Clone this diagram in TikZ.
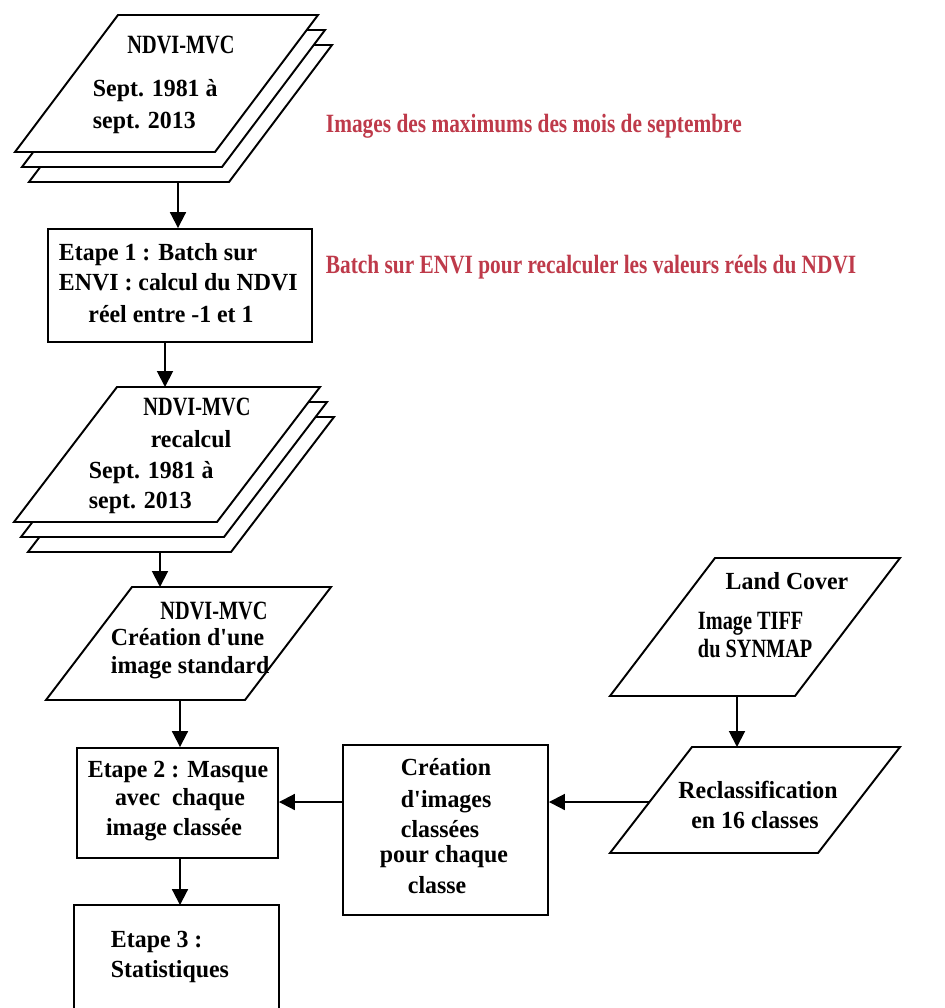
\documentclass[tikz,border=0pt]{standalone}
\usepackage{fontspec}
\setmainfont{Liberation Serif}[FakeStretch=0.97]
\newfontfamily\notefont{Liberation Serif}[FakeStretch=0.81]
\newfontfamily\narrowfont{Liberation Serif}[FakeStretch=0.77]
\usetikzlibrary{arrows.meta}
\definecolor{note}{HTML}{BE3A4A}
\newcommand{\apos}{\textquotesingle}
\begin{document}
\begin{tikzpicture}[x=0.02cm,y=-0.02cm,
  line width=1.1pt,
  shp/.style={draw, fill=white, line join=miter},
  box/.style={draw, fill=white, rectangle, inner sep=0},
  flow/.style={-{Triangle[length=9pt,width=9pt]}, line width=1.1pt},
  lbl/.style={inner sep=0, font=\fontsize{14}{17}\selectfont\bfseries},
  caps/.style={inner sep=0, font=\narrowfont\fontsize{15}{18}\selectfont\bfseries},
  note/.style={inner sep=0, text=note, font=\notefont\fontsize{15}{18}\selectfont\bfseries}]
\useasboundingbox (0,0) rectangle (944,1008);

% stacked NDVI-MVC images (three layers each)
\foreach \d in {2,1,0}
  \draw[shp] ({118+7*\d},{15+15*\d}) -- ++(200,0) -- ++(-103,137) -- ++(-200,0) -- cycle;
\foreach \d in {2,1,0}
  \draw[shp] ({117+7*\d},{387+15*\d}) -- ++(203,0) -- ++(-103,135) -- ++(-203,0) -- cycle;

% single image parallelograms
\draw[shp] (132,587) -- (331,587) -- (245,700) -- (46,700) -- cycle;
\draw[shp] (715,558) -- (900,558) -- (795,696) -- (610,696) -- cycle;
\draw[shp] (692,747) -- (900,747) -- (818,853) -- (610,853) -- cycle;

% process boxes
\node[box, minimum width=5.28cm, minimum height=2.26cm] (b1) at (180,285.5) {};
\node[box, minimum width=4.02cm, minimum height=2.2cm] (b2) at (177.5,803) {};
\node[box, minimum width=4.1cm, minimum height=3.4cm] (bc) at (445.5,830) {};
\node[inner sep=0, minimum width=4.06cm, minimum height=2.04cm] (b3) at (176.5,957) {};
\draw (b3.south west) -- (b3.north west) -- (b3.north east) -- (b3.south east);

% connector end points on the image shapes
\coordinate (s1) at (178,182);
\coordinate (s2t) at (165,387);
\coordinate (s2) at (160,552);
\coordinate (p3t) at (160,587);
\coordinate (p3) at (180,700);
\coordinate (lc) at (737,696);
\coordinate (rct) at (737,747);
\coordinate (rc) at (649.5,802);

% texts
\node[caps, anchor=base] (t1) at (181,53) {NDVI-MVC};
\node[lbl, anchor=base west] (t2) at (92,96) {Sept. 1981 à};
\node[lbl, anchor=base west] (t3) at (92,128) {sept. 2013};

\node[lbl, anchor=base west] (t4) at (58,260) {Etape 1 : Batch sur};
\node[lbl, anchor=base west] (t5) at (58,290) {ENVI : calcul du NDVI};
\node[lbl, anchor=base] (t6) at (171,322) {réel entre -1 et 1};

\node[caps, anchor=base] (t7) at (197,415) {NDVI-MVC};
\node[lbl, anchor=base] (t8) at (191,447) {recalcul};
\node[lbl, anchor=base west] (t9) at (88,478) {Sept. 1981 à};
\node[lbl, anchor=base west] (t10) at (88,508) {sept. 2013};

\node[caps, anchor=base] (t11) at (214,619) {NDVI-MVC};
\node[lbl, anchor=base west] (t12) at (110,645) {Création d\apos une};
\node[lbl, anchor=base west] (t13) at (110,673) {image standard};

\node[lbl, anchor=base] (t14) at (178,777) {Etape 2 : Masque};
\node[lbl, anchor=base] (t15) at (180,805) {avec\ \ chaque};
\node[lbl, anchor=base] (t16) at (174,835) {image\ classée};

\node[lbl, anchor=base west] (t17) at (110,947) {Etape 3 :};
\node[lbl, anchor=base west] (t18) at (110,977) {Statistiques};

\node[lbl, anchor=base west] (t19) at (400,775) {Création};
\node[lbl, anchor=base west] (t20) at (400,807) {d\apos images};
\node[lbl, anchor=base west] (t21) at (400,837) {classées};
\node[lbl, anchor=base west] (t22) at (379,862) {pour chaque};
\node[lbl, anchor=base west] (t23) at (407,893) {classe};

\node[lbl, anchor=base] (t24) at (787,589) {Land Cover};
\node[caps, anchor=base west] (t25) at (697,629) {Image TIFF};
\node[caps, anchor=base west] (t26) at (697,657) {du SYNMAP};

\node[lbl, anchor=base] (t27) at (758,798) {Reclassification};
\node[lbl, anchor=base] (t28) at (755,828) {en 16 classes};

\node[note, anchor=base west] (n1) at (325,132) {Images des maximums des mois de septembre};
\node[note, anchor=base west] (n2) at (325,273) {Batch sur ENVI pour recalculer les valeurs réels du NDVI};

% connectors
\draw[flow] (s1) -- (s1 |- b1.north);
\draw[flow] (b1.south -| s2t) -- (s2t);
\draw[flow] (s2) -- (p3t);
\draw[flow] (p3) -- (p3 |- b2.north);
\draw[flow] (b2.south -| p3) -- (p3 |- b3.north);
\draw[flow] (lc) -- (rct);
\draw[flow] (rc) -- (rc -| bc.east);
\draw[flow] (rc -| bc.west) -- (rc -| b2.east);
\end{tikzpicture}
\end{document}
